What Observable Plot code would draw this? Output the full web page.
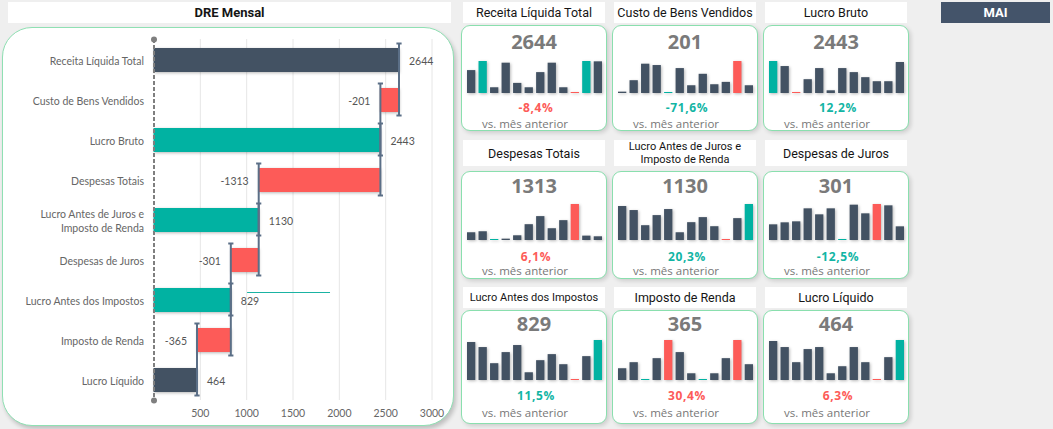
<!DOCTYPE html>
<html><head><meta charset="utf-8">
<script src="https://cdn.jsdelivr.net/npm/d3@7"></script>
<script src="https://cdn.jsdelivr.net/npm/@observablehq/plot@0.6"></script>
<style>
body{margin:0;background:#efefef;}
#page{position:relative;width:1053px;height:429px;overflow:hidden;background:#efefef;font-family:"Open Sans",sans-serif;}
.abs{position:absolute;}
.titulo{position:absolute;background:#fff;display:flex;align-items:center;justify-content:center;text-align:center;font-family:Roboto,sans-serif;color:#151515;line-height:1.2;}
.card{position:absolute;background:#fff;border:1.5px solid #8adfae;border-radius:9px;box-shadow:2px 2px 4px rgba(0,0,0,.14);box-sizing:border-box;}
.txt{position:absolute;text-align:center;white-space:nowrap;transform:translate(-50%,-50%);}
g[aria-label="bar"] rect{filter:drop-shadow(1px 1px 1.5px rgba(0,0,0,.28));}
</style></head><body><div id="page"></div>
<script>
// ---------- Dados: DRE Mensal (cascata) ----------
const categorias = ["Receita Líquida Total","Custo de Bens Vendidos","Lucro Bruto","Despesas Totais",
  "Lucro Antes de Juros e Imposto de Renda","Despesas de Juros","Lucro Antes dos Impostos","Imposto de Renda","Lucro Líquido"];
const valores = [2644, -201, 2443, -1313, 1130, -301, 829, -365, 464];
const tipos = ["total","variacao","subtotal","variacao","subtotal","variacao","subtotal","variacao","total"];
const eixoX = [500, 1000, 1500, 2000, 2500, 3000];
const linhaSolta = [{categoria:"Lucro Antes dos Impostos", x1:1010, x2:1905}];

// ---------- Dados: cartões ----------
const mesAtual = "MAI";
const meses = ["JAN","FEV","MAR","ABR","MAI","JUN","JUL","AGO","SET","OUT","NOV","DEZ"];
const cardTitulos = ["Receita Líquida Total","Custo de Bens Vendidos","Lucro Bruto",
  "Despesas Totais","Lucro Antes de Juros e Imposto de Renda","Despesas de Juros",
  "Lucro Antes dos Impostos","Imposto de Renda","Lucro Líquido"];
const cardValores = [2644, 201, 2443, 1313, 1130, 301, 829, 365, 464];
const cardVariacao = ["-8,4%","-71,6%","12,2%","6,1%","20,3%","-12,5%","11,5%","30,4%","6,3%"];
const cardFavoravel = [false, true, true, false, true, true, true, false, false];
const cardNatureza = ["receita","custo","receita","custo","receita","custo","receita","custo","receita"];
const serieReceita = [68, 95, 17, 90, 30, 17, 62, 90, 17, 3, 95, 94];
const serieCusto = [4, 38, 87, 83, 3, 74, 23, 57, 26, 33, 95, 23];
const serieLucroBruto = [95, 80, 3, 41, 74, 8, 74, 62, 47, 35, 35, 92];
const serieDespesas = [23, 26, 3, 4, 14, 47, 71, 35, 59, 107, 13, 11];
const serieLajir = [101, 89, 44, 74, 92, 23, 53, 68, 41, 3, 65, 107];
const serieJuros = [47, 53, 56, 95, 77, 95, 3, 106, 80, 108, 104, 41];
const serieLair = [113, 98, 50, 83, 104, 23, 59, 77, 47, 3, 71, 119];
const serieImposto = [35, 53, 3, 65, 119, 83, 20, 3, 20, 65, 119, 47];
const serieLucroLiquido = [116, 98, 53, 92, 98, 20, 41, 98, 53, 3, 68, 119];
const series = [serieReceita, serieCusto, serieLucroBruto, serieDespesas, serieLajir,
  serieJuros, serieLair, serieImposto, serieLucroLiquido];

// ---------- Estilos ----------
const ESCURO = "#435263", VERDE = "#01b2a2", VERMELHO = "#fd5b58", CONECTOR = "#5b6f87";
const cores = {total: ESCURO, subtotal: VERDE, variacao: VERMELHO};
const quebra = s => s === "Lucro Antes de Juros e Imposto de Renda" ? "Lucro Antes de Juros e\nImposto de Renda" : s;

const page = document.getElementById("page");
function el(cls, css, html){
  const d = document.createElement("div");
  d.className = cls; Object.assign(d.style, css); if (html != null) d.innerHTML = html;
  page.appendChild(d); return d;
}

// ---------- Painel esquerdo ----------
el("titulo", {left:"8px", top:"2px", width:"443px", height:"21px", fontWeight:"700", fontSize:"13px"}, "DRE Mensal");
el("abs", {left:"2px", top:"27px", width:"452px", height:"399px", background:"#fff", border:"1.5px solid #8fe0b3",
  borderRadius:"30px", boxShadow:"2px 3px 4px rgba(0,0,0,.2)", boxSizing:"border-box"});

let acumulado = 0;
const linhas = categorias.map((c, i) => {
  const v = valores[i], t = tipos[i];
  let x1, x2;
  if (t === "variacao") { x1 = acumulado + v; x2 = acumulado; acumulado += v; }
  else { x1 = 0; x2 = v; acumulado = v; }
  return {categoria: c, valor: v, tipo: t, x1, x2, fim: acumulado};
});
const conectores = linhas.slice(0, -1).map((d, i) => ({de: d.categoria, para: linhas[i + 1].categoria, x: d.fim}));
const cap = {draw(ctx, size){ const r = Math.sqrt(size / Math.PI); ctx.moveTo(-r, 0); ctx.lineTo(r, 0); }};

const wf = Plot.plot({
  width: 455, height: 429, marginLeft: 153.5, marginRight: 23.5, marginTop: 32, marginBottom: 21,
  style: {background: "transparent", color: "#666", fontFamily: "Lato, sans-serif", fontSize: "10.5px", overflow: "visible"},
  x: {domain: [0, 3000]},
  y: {domain: categorias, padding: 0.4, round: false},
  marks: [
    Plot.ruleX(eixoX, {stroke: "#e6e6e6", insetTop: 7, insetBottom: 8}),
    Plot.ruleY(linhaSolta, {y: "categoria", x1: "x1", x2: "x2", stroke: "#1ab3a3", strokeWidth: 1, dy: -8}),
    Plot.barX(linhas, {y: "categoria", x1: "x1", x2: "x2", fill: d => cores[d.tipo]}),
    Plot.ruleX([0], {stroke: "#7f7f7f", strokeWidth: 2, strokeDasharray: "4,2", insetTop: 7, insetBottom: 8}),
    Plot.dot([0], {x: d => d, frameAnchor: "top", dy: 7, r: 3, fill: "#7f7f7f"}),
    Plot.dot([0], {x: d => d, frameAnchor: "bottom", dy: -8, r: 3, fill: "#7f7f7f"}),
    Plot.link(conectores, {x1: "x", x2: "x", y1: "de", y2: "para", stroke: CONECTOR, strokeWidth: 2}),
    Plot.dot(conectores, {x: "x", y: "de", dy: -17, symbol: cap, r: 2.6, stroke: CONECTOR, strokeWidth: 2, fill: "none"}),
    Plot.dot(conectores, {x: "x", y: "para", dy: 15, symbol: cap, r: 2.6, stroke: CONECTOR, strokeWidth: 2, fill: "none"}),
    Plot.text(linhas.filter(d => d.tipo !== "variacao"), {x: "x2", y: "categoria", text: d => String(d.valor), dx: 10, dy: 1, textAnchor: "start", fill: "#555", fontSize: 10.5}),
    Plot.text(linhas.filter(d => d.tipo === "variacao"), {x: "x1", y: "categoria", text: d => String(d.valor), dx: -10, dy: 1, textAnchor: "end", fill: "#555", fontSize: 10.5}),
    Plot.axisY({tickSize: 0, tickPadding: 10, label: null, tickFormat: quebra, lineHeight: 1.35, fontSize: 10.5}),
    Plot.axisX({ticks: eixoX, tickSize: 0, label: null, dy: -8, fontSize: 10.5, tickFormat: d => String(d)})
  ]
});
// stretch connector links to the caps (from 5px above first bar to 3px below next bar)
wf.querySelectorAll('g[aria-label="link"] path').forEach(p => {
  const m = p.getAttribute("d").match(/M([\d.\-]+),([\d.\-]+)L([\d.\-]+),([\d.\-]+)/);
  if (m) p.setAttribute("d", `M${m[1]},${+m[2] - 17}L${m[3]},${+m[4] + 15}`);
});
Object.assign(wf.style, {position: "absolute", left: "0px", top: "0px"});
page.appendChild(wf);

// ---------- Cartões ----------
el("titulo", {left:"941px", top:"2px", width:"109px", height:"21px", background:"#44546a", color:"#fff", fontWeight:"700", fontSize:"13px"}, mesAtual);

const colunas = [461, 612, 763], cardW = 146;
const fileiras = [
  {tTop: 2, tH: 21, cTop: 25, cH: 106, num: 42, sTop: 61, sH: 32, pct: 108, vs: 124},
  {tTop: 140, tH: 26, cTop: 171, cH: 108, num: 186, sTop: 204, sH: 36, pct: 257, vs: 271},
  {tTop: 287, tH: 21, cTop: 310, cH: 114, num: 323.5, sTop: 340, sH: 40, pct: 396, vs: 413}
];

cardTitulos.forEach((titulo, i) => {
  const f = fileiras[Math.floor(i / 3)], left = colunas[i % 3], cx = left + cardW / 2;
  const longo = titulo.length > 22;
  el("titulo", {left: (left + 2) + "px", top: f.tTop + "px", width: (cardW - 4) + "px", height: f.tH + "px",
    fontSize: (longo ? 11 : 12.5) + "px"}, quebra(titulo).replace("\n", "<br>"));
  el("card", {left: left + "px", top: f.cTop + "px", width: cardW + "px", height: f.cH + "px"});
  el("txt", {left: cx + "px", top: f.num + "px", fontWeight: "700", fontSize: "20px", color: "#7a7a7a", lineHeight: "1"}, String(cardValores[i]));
  el("txt", {left: (cx + 2) + "px", top: f.pct + "px", fontWeight: "700", fontSize: "12px", letterSpacing: "0.6px",
    color: cardFavoravel[i] ? "#12b5a4" : VERMELHO, lineHeight: "1"}, cardVariacao[i]);
  el("txt", {left: (cx - 9) + "px", top: f.vs + "px", fontSize: "11.5px", color: "#777", lineHeight: "1"}, "vs. mês anterior");

  const serie = series[i], mx = d3.max(serie), mn = d3.min(serie);
  const bom = cardNatureza[i] === "receita";
  const dados = meses.map((m, k) => ({mes: m, v: serie[k],
    cor: serie[k] === mx ? (bom ? VERDE : VERMELHO) : serie[k] === mn ? (bom ? VERMELHO : VERDE) : ESCURO}));
  const sp = Plot.plot({
    width: 135, height: f.sH, margin: 0,
    x: {type: "band", domain: meses, paddingInner: 0.28, paddingOuter: 0, axis: null, round: false},
    y: {domain: [0, mx], axis: null},
    color: {type: "identity"},
    style: {background: "transparent", overflow: "visible"},
    marks: [Plot.barY(dados, {x: "mes", y: "v", fill: "cor"})]
  });
  Object.assign(sp.style, {position: "absolute", left: (left + 6) + "px", top: f.sTop + "px"});
  page.appendChild(sp);
});
</script></body></html>
